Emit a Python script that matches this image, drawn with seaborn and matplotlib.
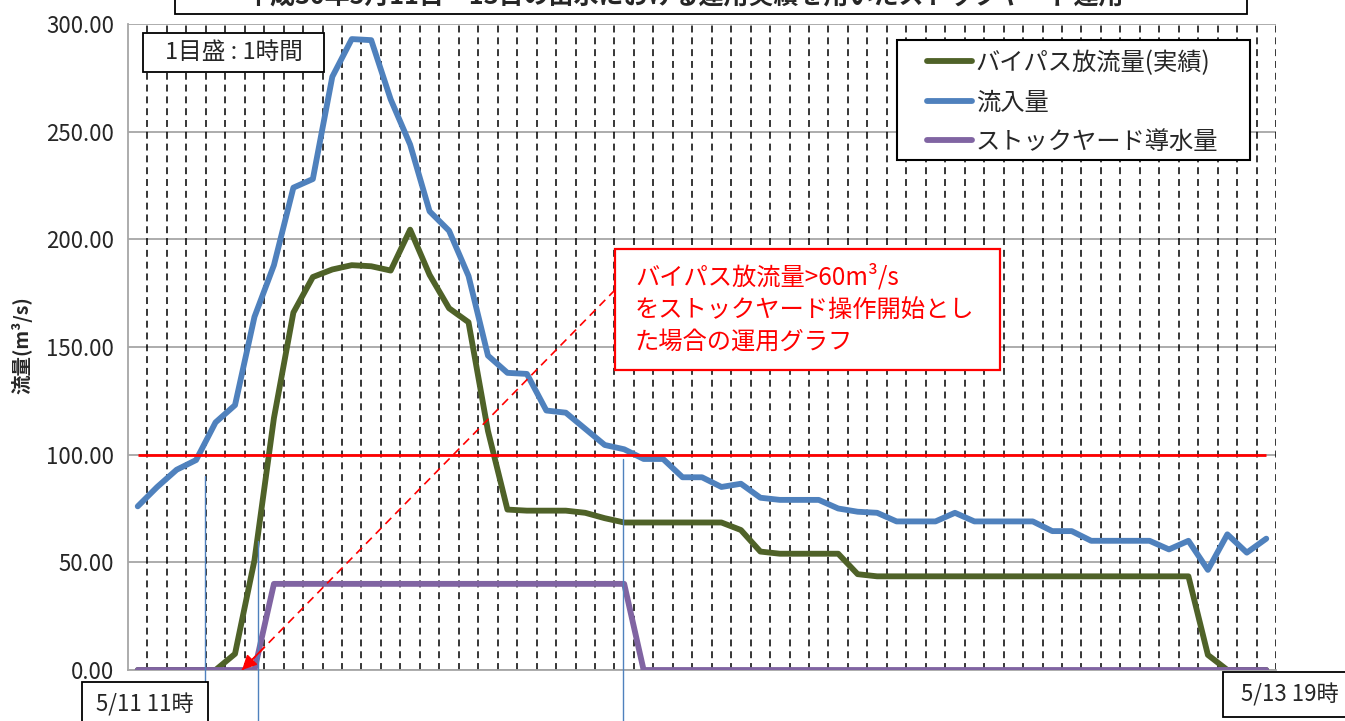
import numpy as np
import pandas as pd
import matplotlib
matplotlib.use("Agg")
import matplotlib.pyplot as plt
import seaborn as sns
from matplotlib.patches import Rectangle

# ---------------- data ----------------
hours = list(range(59))  # hourly steps, 5/11 11時 onward

inflow = [76, 85, 93, 97.5, 115, 123, 164, 188, 224, 228,
          275.5, 293, 292.5, 265, 244, 213, 204, 183, 146, 138,
          137.5, 120.5, 119.5, 112, 104.5, 102.5, 98, 98, 89.5, 89.5,
          85, 86.5, 80, 79, 79, 79, 75, 73.5, 73, 69,
          69, 69, 73, 69, 69, 69, 69, 64.5, 64.5, 60,
          60, 60, 60, 56, 60, 46.5, 63, 54.5, 61]

bypass = [0, 0, 0, 0, 0, 7.5, 51, 117, 166, 182.5,
          186, 188, 187.5, 185.5, 204.5, 183.5, 168, 161.5, 111, 74.5,
          74, 74, 74, 73, 70.5, 68.5, 68.5, 68.5, 68.5, 68.5,
          68.5, 65, 55, 54, 54, 54, 54, 44.5, 43.5, 43.5,
          43.5, 43.5, 43.5, 43.5, 43.5, 43.5, 43.5, 43.5, 43.5, 43.5,
          43.5, 43.5, 43.5, 43.5, 43.5, 7, 0, 0, 0]

stockyard = [0, 0, 0, 0, 0, 0, 0, 40, 40, 40,
             40, 40, 40, 40, 40, 40, 40, 40, 40, 40,
             40, 40, 40, 40, 40, 40, 0, 0, 0, 0,
             0, 0, 0, 0, 0, 0, 0, 0, 0, 0,
             0, 0, 0, 0, 0, 0, 0, 0, 0, 0,
             0, 0, 0, 0, 0, 0, 0, 0, 0]

THRESHOLD = 100
series_labels = ["バイパス放流量(実績)", "流入量", "ストックヤード導水量"]
series_colors = ["#4F6228", "#4F81BD", "#8064A2"]
y_ticks = [0, 50, 100, 150, 200, 250, 300]

marker_x = [3.45, 6.2, 24.94]      # thin reference lines (hour position)
marker_top = [90, 60, 98]          # their upper ends (m3/s)
arrow_from = (24.53, 176.5)
arrow_to = (5.36, 0.0)

title_text = "平成30年5月11日～13日の出水における運用実績を用いたストックヤード運用"
scale_note = "1目盛 : 1時間"
start_label = "5/11 11時"
end_label = "5/13 19時"
note_lines = ["バイパス放流量>60m³/s", "をストックヤード操作開始とし", "た場合の運用グラフ"]
y_label = "流量(m³/s)"

# ---------------- style ----------------
sns.set_style("white")
plt.rcParams["font.family"] = ["Noto Sans CJK JP", "DejaVu Sans"]
plt.rcParams["lines.scale_dashes"] = False

W, H = 1345, 721
fig = plt.figure(figsize=(W / 100, H / 100), dpi=100)
ax = fig.add_axes([128 / W, 51 / H, 1148 / W, 646 / H])


def fpt(x, y):
    return x / W, 1 - y / H


def make_rect(x0, y0, x1, y1, ec="black", lw=1.3):
    return Rectangle((x0 / W, 1 - y1 / H), (x1 - x0) / W, (y1 - y0) / H,
                     transform=fig.transFigure, facecolor="white",
                     edgecolor=ec, linewidth=lw, zorder=10, clip_on=False)


def fig_rect(*a, **k):
    r = make_rect(*a, **k)
    fig.add_artist(r)
    return r


# vertical hourly dashed grid (between categories)
ax.vlines(np.arange(0.5, len(hours), 1.0), 0, 300, colors="black",
          linewidth=1.1, linestyles=(0, (5, 3.5)), zorder=1)

# data series
df = pd.DataFrame({"hour": hours, "bypass": bypass, "inflow": inflow,
                   "stockyard": stockyard})
handles = []
for col, lab, colr in zip(["bypass", "inflow", "stockyard"], series_labels, series_colors):
    sns.lineplot(data=df, x="hour", y=col, ax=ax, color=colr, linewidth=4.2,
                 label=lab, legend=False, zorder=4,
                 solid_capstyle="round", solid_joinstyle="round")
    handles.append(ax.get_lines()[-1])

# threshold line
ax.hlines(THRESHOLD, hours[0], hours[-1], colors="#FF0000", linewidth=2.0, zorder=5)

# thin blue reference lines extending below the axis
for mx, mt in zip(marker_x, marker_top):
    ax.plot([mx, mx], [mt, -24], color="#4F81BD", linewidth=1.0,
            zorder=6, clip_on=False)

# red dashed arrow
ax.plot([arrow_from[0], arrow_to[0]], [arrow_from[1], arrow_to[1]],
        color="#FF0000", linewidth=1.2, linestyle=(0, (6, 4)), zorder=7)
fr = 0.06
ax.annotate("", xy=arrow_to,
            xytext=(arrow_to[0] + fr * (arrow_from[0] - arrow_to[0]),
                    arrow_to[1] + fr * (arrow_from[1] - arrow_to[1])),
            arrowprops=dict(arrowstyle="-|>", color="#FF0000", lw=1.2,
                            mutation_scale=22, shrinkA=0, shrinkB=0),
            zorder=7, annotation_clip=False)

# axes formatting
ax.set_xlim(-0.5, len(hours) - 0.5)
ax.set_ylim(0, 300)
ax.set_yticks(y_ticks)
ax.set_yticklabels([f"{v:.2f}" for v in y_ticks])
ax.set_xticks([])
ax.set_xticks(hours, minor=True)
ax.tick_params(axis="x", which="minor", direction="in", length=3,
               color="#A6A6A6", width=1, labelbottom=False)
ax.tick_params(axis="y", which="major", direction="out", length=6,
               color="#A6A6A6", width=1.2, labelsize=16, pad=4)
ax.set_xlabel("")
ax.set_ylabel("")
ax.yaxis.grid(True, color="#A6A6A6", linewidth=1.3, zorder=0)
ax.xaxis.grid(False)
ax.set_axisbelow(True)
for s in ["top", "right"]:
    ax.spines[s].set_visible(False)
for s in ["left", "bottom"]:
    ax.spines[s].set_color("#A6A6A6")
    ax.spines[s].set_linewidth(1.3)

# legend (frame drawn as an axes-level patch below the legend)
ax.add_patch(make_rect(897, 40, 1250, 160, lw=1.5))
leg = ax.legend(handles, series_labels, loc="upper left",
                bbox_to_anchor=fpt(927, 50), bbox_transform=fig.transFigure,
                frameon=False, fontsize=17.5, handlelength=1.85,
                handletextpad=0.15, labelspacing=0.55, borderpad=0,
                borderaxespad=0)
leg.set_zorder(11)

# title (clipped at the top of the image, as in the original)
fig_rect(175, -40, 1247, 13.5)
fig.text(*fpt(685, -3), title_text, ha="center", va="center", fontsize=18,
         fontweight="bold", zorder=11)

# scale note
fig_rect(143, 33, 324, 72)
fig.text(*fpt(233.5, 52.5), scale_note, ha="center", va="center", fontsize=17, zorder=11)

# start / end labels
fig_rect(82, 682, 208, 740)
fig.text(*fpt(145, 705), start_label, ha="center", va="center", fontsize=16, zorder=11)
fig_rect(1223, 672, 1360, 717)
fig.text(*fpt(1290, 695), end_label, ha="center", va="center", fontsize=16, zorder=11)

# red note box
fig_rect(615, 249, 1000, 370, ec="#FF0000", lw=1.6)
for txt, yy in zip(note_lines, [277, 310, 342]):
    fig.text(*fpt(635, yy), txt, ha="left", va="center", fontsize=17.5,
             color="#FF0000", zorder=11)

# y label
fig.text(*fpt(22, 345), y_label, rotation=90, ha="center", va="center",
         fontsize=14, fontweight="bold")

fig.savefig("out.png", dpi=100)
